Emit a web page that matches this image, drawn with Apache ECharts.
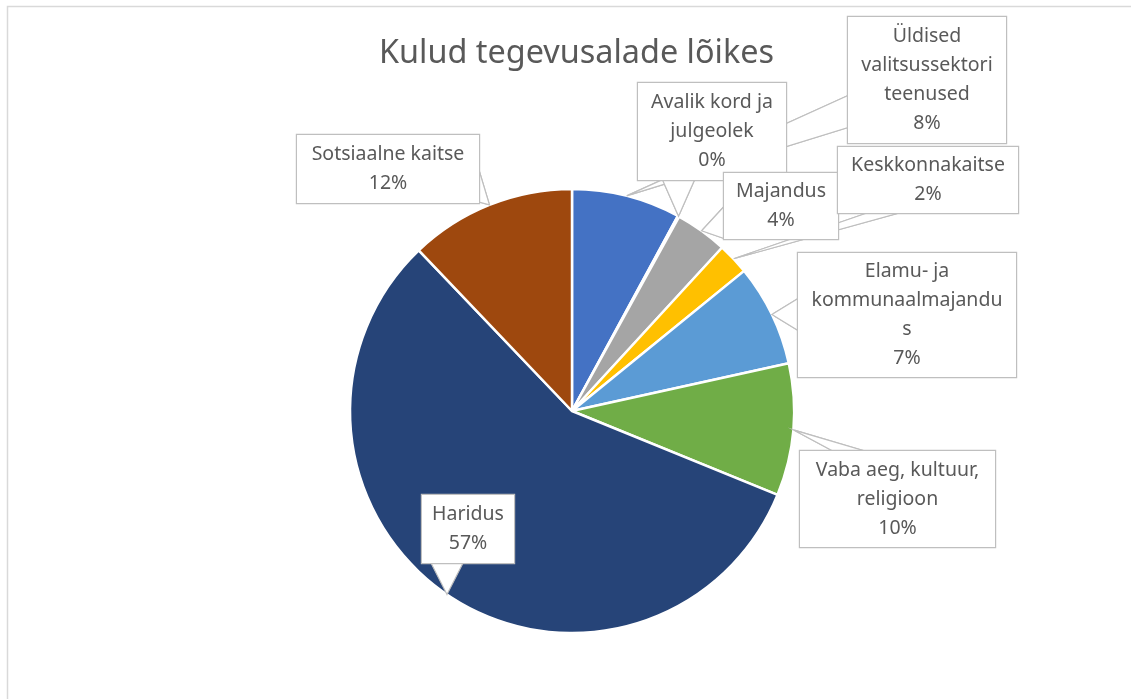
<!DOCTYPE html>
<html>
<head>
<meta charset="utf-8">
<script src="https://cdn.jsdelivr.net/npm/echarts@6/dist/echarts.min.js"></script>
<style>
html, body { margin: 0; padding: 0; background: #fff; }
#pie { width: 1131px; height: 699px; }
</style>
</head>
<body>
<div id="pie"></div>
<script>
var chartTitle = 'Kulud tegevusalade lõikes';
var categories = [
  'Üldised\nvalitsussektori\nteenused',
  'Avalik kord ja\njulgeolek',
  'Majandus',
  'Keskkonnakaitse',
  'Elamu- ja\nkommunaalmajandu\ns',
  'Vaba aeg, kultuur,\nreligioon',
  'Haridus',
  'Sotsiaalne kaitse'
];
var shares = [7.9, 0.1, 3.8, 2.3, 7.4, 9.6, 56.6, 12.1];
var colors = ['#4472C4', '#ED7D31', '#A5A5A5', '#FFC000', '#5B9BD5', '#70AD47', '#264478', '#9E480E'];

// callout boxes: left, top, width, height
var boxes = [
  [848, 17, 158, 126],
  [638, 83, 148, 97],
  [724, 173, 114, 66],
  [838, 147, 180, 66],
  [798, 253, 218, 124],
  [800, 451, 195, 96],
  [422, 495, 92, 68],
  [297, 135, 182, 68]
];
var LINE_H = 29;
var tips = [];

function clamp(v, a, b) { return Math.max(a, Math.min(b, v)); }

// speech-bubble pointer: base on the box side facing the slice, tip on the slice
function wedge(b, tip) {
  var cx = b[0] + b[2] / 2, cy = b[1] + b[3] / 2;
  var ox = (tip[0] - cx) / (b[2] / 2), oy = (tip[1] - cy) / (b[3] / 2);
  var hw = 16, m;
  if (Math.abs(ox) > Math.abs(oy)) {
    var ex = ox < 0 ? b[0] : b[0] + b[2];
    m = clamp(tip[1], b[1] + b[3] / 4, b[1] + b[3] * 3 / 4);
    return [[ex, m - hw], tip, [ex, m + hw]];
  }
  var ey = oy < 0 ? b[1] : b[1] + b[3];
  m = clamp(tip[0], b[0] + b[2] / 4, b[0] + b[2] * 3 / 4);
  return [[m - hw, ey], tip, [m + hw, ey]];
}

var pieData = categories.map(function (name, i) {
  var b = boxes[i];
  var lines = name.split('\n').length + 1;
  var pv = (b[3] - lines * LINE_H) / 2;
  return {
    name: name,
    value: shares[i],
    itemStyle: { color: colors[i] },
    label: { width: b[2], padding: [pv, 0, pv, 0] }
  };
});

var frame = {
  type: 'rect',
  silent: true,
  shape: { x: 7.5, y: 6.5, width: 1200, height: 800 },
  style: { fill: 'none', stroke: '#d9d9d9', lineWidth: 1.5 }
};

var chart = echarts.init(document.getElementById('pie'));
chart.setOption({
  animation: false,
  title: {
    text: chartTitle,
    left: 374,
    top: 33,
    textStyle: {
      fontFamily: 'Noto Sans',
      fontSize: 32.4,
      fontWeight: 'normal',
      color: '#595959'
    }
  },
  graphic: [frame],
  series: [{
    type: 'pie',
    center: [572, 411],
    radius: 222,
    startAngle: 90,
    clockwise: true,
    percentPrecision: 0,
    avoidLabelOverlap: false,
    silent: true,
    data: pieData,
    itemStyle: { borderColor: '#ffffff', borderWidth: 2.5 },
    label: {
      show: true,
      position: 'outside',
      formatter: '{b}\n{d}%',
      fontFamily: 'Noto Sans',
      fontSize: 19.5,
      lineHeight: LINE_H,
      color: '#595959',
      align: 'center',
      overflow: 'none',
      backgroundColor: '#ffffff',
      borderColor: '#bfbfbf',
      borderWidth: 1.2
    },
    labelLine: {
      show: true,
      lineStyle: { color: '#bfbfbf', width: 1.2 }
    },
    labelLayout: function (params) {
      var i = params.dataIndex;
      var b = boxes[i];
      var tip = params.labelLinePoints[0];
      tips[i] = [tip[0], tip[1]];
      return {
        x: b[0] + b[2] / 2,
        y: b[1],
        align: 'center',
        verticalAlign: 'top',
        labelLinePoints: wedge(b, tips[i])
      };
    }
  }]
});

// white callout pointers over the pie, under the label boxes
var wedges = tips.map(function (tip, i) {
  return {
    type: 'polygon',
    silent: true,
    z: 2,
    z2: 3,
    shape: { points: wedge(boxes[i], tip) },
    style: { fill: '#ffffff', stroke: '#bfbfbf', lineWidth: 1.2 }
  };
});
chart.setOption({ graphic: [frame].concat(wedges) });
</script>
</body>
</html>
